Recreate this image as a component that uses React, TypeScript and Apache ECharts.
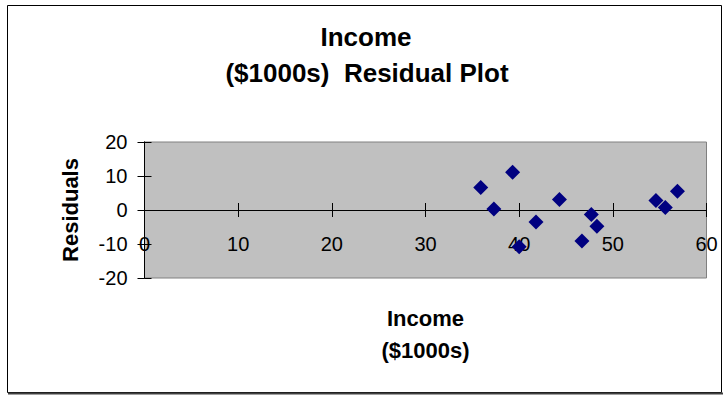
import React, { useEffect, useRef } from "react";
import * as echarts from "echarts";

const incomeX = [35.9, 37.3, 39.3, 40.0, 41.8, 44.3, 46.7, 47.7, 48.3, 54.6, 55.6, 56.9];
const residuals = [6.6, 0.3, 11.1, -10.8, -3.5, 3.1, -9.1, -1.3, -4.8, 2.8, 0.7, 5.5];
const titleLines = ["Income", "($1000s)  Residual Plot"];
const xName = "Income\n($1000s)";
const yName = "Residuals";

const FONT = "'Liberation Sans', Arial, Helvetica, sans-serif";

export default function App() {
  const ref = useRef<HTMLDivElement>(null);
  useEffect(() => {
    if (!ref.current) return;
    const chart = echarts.init(ref.current, undefined, { renderer: "svg" });
    const points = incomeX.map((x, i) => [x, residuals[i]]);
    const black = { color: "#000", width: 1 };
    chart.setOption({
      animation: false,
      backgroundColor: "#fff",
      graphic: [
        {
          type: "rect",
          shape: { x: 7.5, y: 5.5, width: 714, height: 387 },
          style: { fill: "none", stroke: "#000", lineWidth: 1 },
          z: 100,
        },
        {
          type: "line",
          shape: { x1: 8, y1: 393.5, x2: 723, y2: 393.5 },
          style: { stroke: "#404040", lineWidth: 2 },
          z: 100,
        },
        {
          type: "text",
          x: 366,
          y: 37,
          style: {
            text: titleLines[0],
            font: `bold 26px ${FONT}`,
            fill: "#000",
            textAlign: "center",
            textVerticalAlign: "middle",
          },
        },
        {
          type: "text",
          x: 367,
          y: 73,
          style: {
            text: titleLines[1],
            font: `bold 26px ${FONT}`,
            fill: "#000",
            textAlign: "center",
            textVerticalAlign: "middle",
          },
        },
      ],
      grid: {
        left: 144.5,
        top: 142,
        width: 562,
        height: 136,
        outerBoundsMode: "none",
        containLabel: false,
        show: true,
        backgroundColor: "#c0c0c0",
        borderColor: "#808080",
        borderWidth: 1,
      },
      xAxis: [
        {
          type: "value",
          min: 0,
          max: 60,
          interval: 10,
          position: "bottom",
          axisLine: { show: true, onZero: true, lineStyle: black },
          axisTick: { show: true, length: 7, lineStyle: black },
          axisLabel: { margin: -44, fontSize: 20, color: "#000", fontFamily: FONT },
          splitLine: { show: false },
          name: xName,
          nameLocation: "middle",
          nameGap: 24,
          nameTextStyle: {
            fontSize: 22,
            fontWeight: "bold",
            color: "#000",
            fontFamily: FONT,
            lineHeight: 32,
          },
        },
        {
          type: "value",
          min: 0,
          max: 60,
          interval: 10,
          position: "bottom",
          axisLine: { show: true, onZero: true, lineStyle: black },
          axisTick: { show: true, inside: true, length: 7, lineStyle: black },
          axisLabel: { show: false },
          splitLine: { show: false },
        },
      ],
      yAxis: [
        {
          type: "value",
          min: -20,
          max: 20,
          interval: 10,
          position: "left",
          axisLine: { show: true, onZero: false, lineStyle: black },
          axisTick: { show: true, length: 7, lineStyle: black },
          axisLabel: { margin: 17, fontSize: 20, color: "#000", fontFamily: FONT },
          splitLine: { show: false },
          name: yName,
          nameLocation: "middle",
          nameGap: 63,
          nameTextStyle: {
            fontSize: 22,
            fontWeight: "bold",
            color: "#000",
            fontFamily: FONT,
          },
        },
        {
          type: "value",
          min: -20,
          max: 20,
          interval: 10,
          position: "left",
          axisLine: { show: true, onZero: false, lineStyle: black },
          axisTick: { show: true, inside: true, length: 7, lineStyle: black },
          axisLabel: { show: false },
          splitLine: { show: false },
        },
      ],
      series: [
        {
          type: "scatter",
          xAxisIndex: 0,
          yAxisIndex: 0,
          data: points,
          symbol: "diamond",
          symbolSize: 15,
          itemStyle: { color: "#000080", opacity: 1 },
          z: 10,
        },
      ],
    });
    return () => chart.dispose();
  }, []);
  return (
    <div
      ref={ref}
      style={{ position: "absolute", left: 0, top: 0, width: 723, height: 395 }}
    />
  );
}
